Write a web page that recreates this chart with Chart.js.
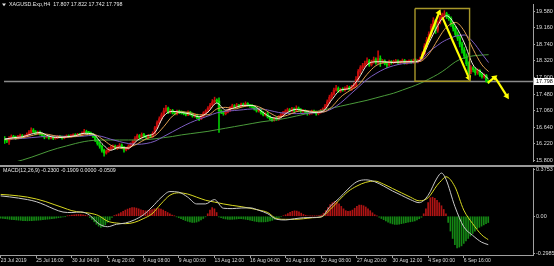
<!DOCTYPE html>
<html>
<head>
<meta charset="utf-8">
<script src="https://cdn.jsdelivr.net/npm/chart.js@4.4.0/dist/chart.umd.min.js"></script>
<style>
html, body { margin: 0; padding: 0; background: #000; }
#wrap { position: relative; width: 554px; height: 266px; background: #000; overflow: hidden; }
#main { position: absolute; left: 0; top: 0; }
#sep { position: absolute; left: 0; top: 165px; width: 554px; height: 2px; background: #9a9a9a; }
#macd { position: absolute; left: 0; top: 167px; }
</style>
</head>
<body>
<div id="wrap">
  <canvas id="main" width="554" height="165"></canvas>
  <div id="sep"></div>
  <canvas id="macd" width="554" height="99"></canvas>
</div>
<script>
// XAGUSD H4 closes, one per bar (bar 0 = 23 Jul 2019 00:00)
var closes = [
  16.30,16.28,16.35,16.40,16.38,16.36,16.40,16.42,16.39,16.41,16.45,16.50,16.56,16.52,16.48,16.50,
  16.46,16.42,16.38,16.40,16.36,16.38,16.35,16.37,16.40,16.38,16.36,16.39,16.41,16.40,16.42,16.44,
  16.42,16.45,16.44,16.48,16.52,16.50,16.49,16.46,16.40,16.30,16.22,16.15,16.05,15.98,16.02,16.08,
  16.12,16.15,16.10,16.14,16.18,16.12,16.06,16.10,16.15,16.20,16.28,16.35,16.42,16.38,16.45,16.40,
  16.38,16.42,16.40,16.48,16.62,16.75,16.85,16.95,17.05,17.12,17.02,17.06,17.00,16.98,17.04,17.02,
  17.00,16.98,16.95,17.02,16.97,16.92,16.95,16.88,16.85,16.92,17.00,17.05,17.12,17.20,17.28,17.32,
  17.30,17.05,17.02,16.98,17.02,17.06,17.12,17.18,17.15,17.20,17.16,17.22,17.18,17.24,17.20,17.18,
  17.15,17.10,17.05,17.08,17.00,16.95,16.98,16.90,16.85,16.82,16.86,16.84,16.90,16.95,17.00,17.04,
  17.08,17.05,17.10,17.06,17.12,17.08,17.04,17.06,17.02,16.98,17.00,17.04,17.02,16.98,17.02,17.06,
  17.10,17.18,17.28,17.40,17.48,17.58,17.62,17.55,17.60,17.58,17.62,17.65,17.60,17.66,17.70,17.85,
  18.05,18.15,18.20,18.26,18.32,18.22,18.30,18.35,18.28,18.38,18.30,18.32,18.25,18.22,18.30,18.28,
  18.30,18.32,18.28,18.30,18.33,18.27,18.30,18.32,18.29,18.34,18.30,18.33,18.38,18.50,18.70,18.85,
  19.00,19.20,19.35,19.10,19.30,19.42,19.48,19.52,19.45,19.40,19.25,19.15,19.00,18.90,18.75,18.60,
  18.45,18.25,18.05,18.15,18.10,18.02,18.08,17.98,17.92,17.95,17.807,17.798
];
var highs = [
  16.40,16.34,16.40,16.44,16.43,16.41,16.43,16.46,16.45,16.44,16.49,16.55,16.62,16.60,16.55,16.54,
  16.54,16.49,16.45,16.43,16.42,16.40,16.41,16.39,16.43,16.43,16.41,16.41,16.44,16.44,16.45,16.47,
  16.47,16.48,16.48,16.52,16.58,16.56,16.53,16.51,16.48,16.42,16.33,16.25,16.18,16.08,16.06,16.12,
  16.16,16.19,16.18,16.17,16.22,16.21,16.15,16.13,16.19,16.24,16.31,16.40,16.46,16.45,16.49,16.48,
  16.43,16.45,16.45,16.52,16.66,16.80,16.90,17.00,17.12,17.19,17.15,17.09,17.09,17.04,17.07,17.07,
  17.05,17.03,17.01,17.05,17.04,17.00,16.98,16.97,16.91,16.95,17.03,17.08,17.16,17.24,17.34,17.40,
  17.36,17.38,17.08,17.05,17.05,17.09,17.16,17.22,17.21,17.24,17.22,17.25,17.25,17.28,17.26,17.22,
  17.21,17.18,17.13,17.11,17.11,17.03,17.01,17.01,16.93,16.88,16.89,16.89,16.93,16.98,17.04,17.08,
  17.12,17.11,17.14,17.13,17.18,17.15,17.11,17.09,17.08,17.05,17.03,17.07,17.07,17.05,17.05,17.09,
  17.13,17.22,17.33,17.45,17.52,17.63,17.70,17.66,17.63,17.64,17.66,17.70,17.68,17.70,17.76,17.92,
  18.10,18.20,18.26,18.32,18.40,18.36,18.34,18.42,18.40,18.58,18.45,18.36,18.35,18.30,18.34,18.33,
  18.34,18.36,18.35,18.33,18.37,18.36,18.33,18.35,18.35,18.37,18.37,18.36,18.42,18.55,18.76,18.92,
  19.06,19.26,19.42,19.38,19.34,19.47,19.54,19.60,19.56,19.50,19.44,19.30,19.20,19.06,18.95,18.80,
  18.66,18.50,18.30,18.20,18.18,18.14,18.12,18.10,18.02,17.99,17.98,17.822
];
var lows = [
  16.22,16.24,16.20,16.33,16.35,16.32,16.34,16.38,16.36,16.37,16.39,16.43,16.48,16.49,16.44,16.45,
  16.43,16.39,16.34,16.36,16.33,16.34,16.32,16.33,16.35,16.36,16.33,16.34,16.37,16.38,16.38,16.40,
  16.39,16.40,16.41,16.42,16.46,16.47,16.46,16.43,16.37,16.27,16.18,16.10,16.00,15.90,15.95,16.00,
  16.05,16.09,16.07,16.07,16.11,16.09,16.00,16.03,16.07,16.12,16.17,16.25,16.32,16.34,16.35,16.37,
  16.35,16.35,16.37,16.38,16.46,16.60,16.72,16.82,16.92,17.02,16.98,16.99,16.97,16.95,16.95,16.98,
  16.97,16.95,16.92,16.93,16.94,16.89,16.89,16.85,16.80,16.83,16.89,16.97,17.02,17.09,17.17,17.24,
  17.26,16.50,16.98,16.94,16.95,17.00,17.04,17.10,17.12,17.12,17.13,17.14,17.15,17.16,17.17,17.14,
  17.12,17.07,17.02,17.02,16.97,16.92,16.92,16.87,16.82,16.78,16.79,16.81,16.81,16.87,16.92,16.97,
  17.01,17.02,17.02,17.03,17.03,17.05,17.01,17.01,16.99,16.94,16.95,16.97,16.99,16.94,16.95,16.99,
  17.03,17.07,17.15,17.25,17.36,17.45,17.55,17.52,17.52,17.55,17.55,17.59,17.57,17.57,17.63,17.67,
  17.82,18.00,18.10,18.16,18.22,18.18,18.19,18.26,18.24,18.25,18.18,18.26,18.22,18.15,18.19,18.24,
  18.25,18.27,18.25,18.25,18.27,18.24,18.24,18.27,18.26,18.26,18.27,18.27,18.30,18.35,18.47,18.66,
  18.80,18.95,19.14,19.02,19.05,19.26,19.38,19.42,19.40,19.35,19.20,19.08,18.94,18.84,18.68,18.52,
  18.38,18.20,17.98,18.00,18.04,17.96,17.98,17.93,17.88,17.88,17.78,17.742
];
var firstOpen = 16.34;

// moving averages and MACD lines, read at these bars
var lineBars = [0,4,8,12,16,20,24,28,32,36,40,44,48,52,56,60,64,68,72,76,80,84,88,92,96,
  100,104,108,112,116,120,124,128,132,136,140,144,148,152,156,160,164,168,172,176,180,184,188,192,
  196,198,200,204,208,212,216,219];
var maFast = [
  16.33,16.37,16.39,16.46,16.50,16.41,16.37,16.39,16.42,16.48,
  16.46,16.22,16.05,16.13,16.10,16.30,16.41,16.50,16.92,17.04,
  17.01,16.97,16.90,17.02,17.25,17.07,17.13,17.19,17.19,17.05,
  16.90,16.86,17.01,17.09,17.05,17.01,17.04,17.33,17.58,17.62,
  17.86,18.22,18.30,18.30,18.28,18.30,18.30,18.34,18.78,19.22,
  19.40,19.47,19.22,18.78,18.22,18.02,17.86
];
var maMid = [
  16.33,16.34,16.37,16.42,16.47,16.45,16.40,16.38,16.40,16.44,
  16.46,16.34,16.18,16.10,16.12,16.21,16.34,16.42,16.65,16.92,
  17.03,17.00,16.95,16.95,17.10,17.14,17.10,17.16,17.19,17.13,
  17.00,16.90,16.94,17.03,17.06,17.03,17.02,17.15,17.40,17.56,
  17.70,17.98,18.20,18.28,18.29,18.29,18.30,18.31,18.50,18.86,
  19.04,19.18,19.30,19.08,18.62,18.22,18.05
];
var maSlow = [
  16.34,16.34,16.35,16.37,16.39,16.41,16.41,16.40,16.40,16.41,
  16.43,16.40,16.33,16.27,16.22,16.20,16.22,16.28,16.40,16.52,
  16.64,16.75,16.84,16.92,17.00,17.04,17.06,17.08,17.10,17.10,
  17.06,17.01,16.99,16.98,16.99,17.00,17.02,17.10,17.25,17.45,
  17.65,17.85,18.00,18.12,18.20,18.25,18.27,18.32,18.55,18.72,
  18.80,18.86,18.95,18.98,18.80,18.50,18.28
];
var maLong = [
  15.70,15.74,15.80,15.87,15.95,16.03,16.10,16.16,16.22,16.27,
  16.30,16.31,16.31,16.31,16.31,16.31,16.32,16.34,16.37,16.40,
  16.44,16.47,16.50,16.53,16.57,16.61,16.65,16.69,16.73,16.77,
  16.80,16.83,16.87,16.92,16.97,17.02,17.07,17.12,17.17,17.22,
  17.27,17.32,17.38,17.44,17.50,17.58,17.66,17.75,17.86,17.98,
  18.05,18.13,18.30,18.40,18.45,18.47,18.48
];
var macdMain = [
  0.165,0.157,0.147,0.135,0.118,0.09,0.058,0.034,0.03,0.035,
  0.008,-0.06,-0.085,-0.065,-0.055,-0.03,0.01,0.075,0.15,0.2,
  0.195,0.155,0.1,0.1,0.135,0.065,0.062,0.067,0.068,0.048,
  0.02,-0.025,-0.03,-0.02,-0.012,-0.01,-0.005,0.08,0.145,0.22,
  0.28,0.295,0.28,0.245,0.205,0.17,0.135,0.11,0.17,0.31,
  0.35,0.3,0.08,-0.085,-0.155,-0.21,-0.23
];
var macdSignal = [
  0.177,0.172,0.165,0.155,0.14,0.12,0.095,0.07,0.045,0.033,
  0.025,0.005,-0.04,-0.055,-0.06,-0.05,-0.02,0.02,0.1,0.17,
  0.19,0.18,0.155,0.13,0.115,0.1,0.088,0.078,0.065,0.05,
  0.03,-0.02,-0.025,-0.025,-0.02,-0.012,-0.005,0.055,0.13,0.2,
  0.245,0.275,0.285,0.26,0.225,0.19,0.155,0.125,0.15,0.25,
  0.29,0.32,0.24,0.05,-0.06,-0.15,-0.19
];
// MACD histogram, one per bar
var macdHist = [
  -0.015,-0.018,-0.02,-0.022,-0.025,-0.027,-0.028,-0.03,-0.032,-0.033,-0.035,-0.036,-0.037,-0.036,-0.035,
  -0.034,-0.033,-0.032,-0.03,-0.028,-0.026,-0.024,-0.022,-0.02,-0.018,-0.015,-0.012,-0.009,-0.005,-0.002,
  0.003,0.006,0.009,0.012,0.014,0.015,0.014,0.012,0.008,0.003,
  -0.01,-0.025,-0.045,-0.065,-0.08,-0.09,-0.085,-0.07,-0.05,-0.03,-0.01,
  0.005,0.012,0.02,0.03,0.04,0.05,0.058,0.065,0.07,0.07,0.066,0.06,0.053,0.047,
  0.044,0.045,0.05,0.055,0.06,0.062,0.062,0.058,0.05,0.04,0.03,0.02,0.01,0.003,
  -0.005,-0.012,-0.02,-0.028,-0.035,-0.041,-0.046,-0.05,-0.05,-0.047,-0.04,-0.03,-0.018,-0.005,
  0.02,0.05,0.07,0.06,0.03,
  -0.005,-0.012,-0.018,-0.022,-0.025,-0.026,-0.025,-0.024,-0.022,-0.02,-0.02,-0.022,-0.025,-0.028,
  -0.032,-0.036,-0.04,-0.043,-0.045,-0.046,-0.046,-0.045,-0.042,-0.038,-0.033,-0.026,-0.018,
  -0.01,-0.004,0.004,
  0.012,0.022,0.032,0.04,0.044,0.042,0.035,0.025,
  0.015,0.008,0.004,0.002,0.001,0.002,0.003,0.005,0.01,
  0.025,0.045,0.07,0.095,0.11,0.12,0.115,0.1,0.08,0.06,0.045,
  0.04,0.042,0.05,
  0.065,0.08,0.09,0.09,0.085,0.075,0.06,0.045,0.028,0.012,
  0.002,-0.008,
  -0.018,-0.028,-0.038,-0.048,-0.056,-0.062,-0.066,-0.066,-0.064,-0.06,-0.056,-0.052,-0.048,-0.045,
  -0.042,-0.038,-0.03,-0.02,-0.008,
  0.02,0.06,0.11,0.15,0.154,0.145,0.13,0.11,0.085,0.055,0.02,
  -0.05,-0.12,-0.18,-0.23,-0.256,-0.25,-0.24,-0.22,-0.2,-0.18,-0.16,-0.14,-0.12,-0.1,
  -0.09,-0.08,-0.07,-0.06,-0.051
];

// axis ticks
var priceTicks = [19.58, 19.16, 18.74, 18.32, 17.90, 17.48, 17.06, 16.64, 16.22, 15.80];
var macdTicks = [0.3753, 0, -0.2985];
var macdTickLabels = ['0.3753', '0.00', '-0.2985'];
var dateBars = [0, 16, 32, 48, 64, 80, 96, 112, 128, 144, 160, 176, 192, 208];
var dateLabels = ['23 Jul 2019', '25 Jul 16:00', '30 Jul 04:00', '1 Aug 20:00', '6 Aug 08:00',
  '9 Aug 00:00', '13 Aug 12:00', '16 Aug 04:00', '20 Aug 16:00', '23 Aug 08:00', '27 Aug 20:00',
  '30 Aug 12:00', '4 Sep 00:00', '6 Sep 16:00'];

var bidPrice = 17.798;
var titleText = 'XAGUSD.Exp,H4  17.807 17.822 17.742 17.798';
var macdTitle = 'MACD(12,26,9) -0.2300 -0.1909 0.0000 -0.0509';

// drawn objects (bar index / price)
var boxBars = [185.7, 210.4];
var boxPrices = [19.654, 17.804];
var arrowUpBars = [188.4, 196.6], arrowUpPrices = [18.37, 19.55];
var arrowDownBars = [198.1, 210.1], arrowDownPrices = [19.43, 17.89];
var projUpBars = [218.6, 221.7], projUpPrices = [17.765, 17.90];
var projDownBars = [222.1, 227.3], projDownPrices = [17.887, 17.424];

var X_MIN = -0.3, X_MAX = 239.1;
var FONT = '"Liberation Sans", Arial, sans-serif';
var UP = 'rgb(200,12,12)', DOWN = 'rgb(0,215,0)';
var AXIS = '#a0a0a0', TXT = '#dcdcdc';

// each bar opens at the previous close
var opens = closes.map(function(c, i) { return i === 0 ? firstOpen : closes[i - 1]; });
var candleColors = closes.map(function(c, i) { return c >= opens[i] ? UP : DOWN; });

var wickData = closes.map(function(c, i) {
  return { x: i, y: [Math.min(lows[i], opens[i], c), Math.max(highs[i], opens[i], c)] };
});
var bodyData = closes.map(function(c, i) { return { x: i, y: [opens[i], c] }; });

function pts(xs, ys) { return xs.map(function(x, i) { return { x: x, y: ys[i] }; }); }

function maLine(values, color, order) {
  return { type: 'line', data: pts(lineBars, values), borderColor: color, borderWidth: 1,
    pointRadius: 0, cubicInterpolationMode: 'monotone', order: order };
}
function arrowLine(xs, ys, rot) {
  return { type: 'line', data: pts(xs, ys), borderColor: '#ffff00', borderWidth: 2.2,
    pointRadius: [0, 3.6], pointStyle: 'triangle', pointRotation: [0, rot],
    pointBackgroundColor: '#ffff00', pointBorderColor: '#ffff00', pointBorderWidth: 0,
    tension: 0, order: 0 };
}

var mainDeco = {
  id: 'mainDeco',
  afterDraw: function(chart) {
    var ctx = chart.ctx, y = chart.scales.y;
    ctx.save();
    ctx.fillStyle = '#e6e6e6';
    ctx.beginPath(); ctx.moveTo(2, 3.5); ctx.lineTo(6, 3.5); ctx.lineTo(4, 6.2); ctx.closePath(); ctx.fill();
    ctx.font = '5.3px ' + FONT;
    ctx.textBaseline = 'middle';
    ctx.fillText(titleText, 9, 5);
    var py = y.getPixelForValue(bidPrice);
    ctx.fillStyle = '#ffffff';
    ctx.fillRect(534, py - 3.5, 20, 7);
    ctx.fillStyle = '#000000';
    ctx.font = '5.5px ' + FONT;
    ctx.fillText(bidPrice.toFixed(3), 536, py + 0.3);
    ctx.restore();
  }
};

var macdDeco = {
  id: 'macdDeco',
  afterDraw: function(chart) {
    var ctx = chart.ctx;
    ctx.save();
    ctx.fillStyle = '#e6e6e6';
    ctx.font = '5.3px ' + FONT;
    ctx.textBaseline = 'middle';
    ctx.fillText(macdTitle, 3, 3.8);
    ctx.restore();
  }
};

new Chart(document.getElementById('main'), {
  type: 'bar',
  data: {
    datasets: [
      { type: 'line', data: pts(boxBars.concat([boxBars[1], boxBars[0], boxBars[0]]),
          [boxPrices[0], boxPrices[0], boxPrices[1], boxPrices[1], boxPrices[0]]),
        borderColor: '#a8982a', borderWidth: 1.4, pointRadius: 0, tension: 0, order: 0 },
      arrowLine(arrowUpBars, arrowUpPrices, 22),
      arrowLine(arrowDownBars, arrowDownPrices, 157),
      arrowLine(projUpBars, projUpPrices, 51),
      arrowLine(projDownBars, projDownPrices, 148),
      maLine(maFast, '#f2f0dc', 1),
      maLine(maMid, '#e0a050', 2),
      maLine(maSlow, '#7c5cc0', 3),
      maLine(maLong, '#4a9a3a', 4),
      { type: 'bar', data: bodyData, backgroundColor: candleColors, barThickness: 1.8,
        minBarLength: 1, grouped: false, order: 6 },
      { type: 'bar', data: wickData, backgroundColor: candleColors, barThickness: 0.9,
        grouped: false, order: 7 },
      { type: 'line', data: pts([X_MIN, X_MAX], [bidPrice, bidPrice]), borderColor: '#8a8a8a',
        borderWidth: 1.3, pointRadius: 0, order: 8 }
    ]
  },
  options: {
    responsive: false,
    animation: false,
    events: [],
    layout: { padding: { top: 1, left: 0, right: 0, bottom: 0 } },
    plugins: { legend: { display: false }, tooltip: { enabled: false } },
    scales: {
      x: { type: 'linear', min: X_MIN, max: X_MAX, display: false, offset: false, grid: { offset: false } },
      y: {
        position: 'right', min: 15.776, max: 19.769,
        afterFit: function(s) { s.width = 21; s.paddingTop = 0; s.paddingBottom = 0; },
        afterBuildTicks: function(s) { s.ticks = priceTicks.map(function(v) { return { value: v }; }); },
        ticks: { callback: function(v) { return v.toFixed(3); }, color: TXT, padding: 1,
          font: { size: 5.5, family: FONT } },
        grid: { drawOnChartArea: false, tickLength: 2, color: AXIS },
        border: { display: true, color: AXIS }
      }
    }
  },
  plugins: [mainDeco]
});

new Chart(document.getElementById('macd'), {
  type: 'bar',
  data: {
    datasets: [
      { type: 'line', data: pts(lineBars, macdMain), borderColor: '#c8c8c8', borderWidth: 1,
        pointRadius: 0, cubicInterpolationMode: 'monotone', order: 0 },
      { type: 'line', data: pts(lineBars, macdSignal), borderColor: '#d8d820', borderWidth: 1,
        pointRadius: 0, cubicInterpolationMode: 'monotone', order: 1 },
      { type: 'bar', data: macdHist.map(function(v, i) { return { x: i, y: v }; }),
        backgroundColor: macdHist.map(function(v) { return v >= 0 ? 'rgb(175,20,20)' : 'rgb(20,135,20)'; }),
        barThickness: 1, grouped: false, order: 2 }
    ]
  },
  options: {
    responsive: false,
    animation: false,
    events: [],
    layout: { padding: { top: 1, left: 0, right: 0, bottom: 0 } },
    plugins: { legend: { display: false }, tooltip: { enabled: false } },
    scales: {
      x: {
        type: 'linear', min: X_MIN, max: X_MAX, offset: false,
        afterFit: function(s) { s.height = 11; s.paddingLeft = 0; s.paddingRight = 0; },
        afterBuildTicks: function(s) { s.ticks = dateBars.map(function(v) { return { value: v }; }); },
        ticks: { autoSkip: false, maxRotation: 0, minRotation: 0, align: 'start', padding: 0,
          color: TXT, font: { size: 5, family: FONT },
          callback: function(v, i) { return dateLabels[i]; } },
        grid: { drawOnChartArea: false, offset: false, tickLength: 3, color: AXIS },
        border: { display: true, color: AXIS }
      },
      y: {
        position: 'right', min: -0.314, max: 0.391,
        afterFit: function(s) { s.width = 21; s.paddingTop = 0; s.paddingBottom = 0; },
        afterBuildTicks: function(s) { s.ticks = macdTicks.map(function(v) { return { value: v }; }); },
        ticks: { callback: function(v, i) { return macdTickLabels[i]; }, color: TXT, padding: 1,
          font: { size: 5.5, family: FONT } },
        grid: { drawOnChartArea: false, tickLength: 2, color: AXIS },
        border: { display: true, color: AXIS }
      }
    }
  },
  plugins: [macdDeco]
});
</script>
</body>
</html>
